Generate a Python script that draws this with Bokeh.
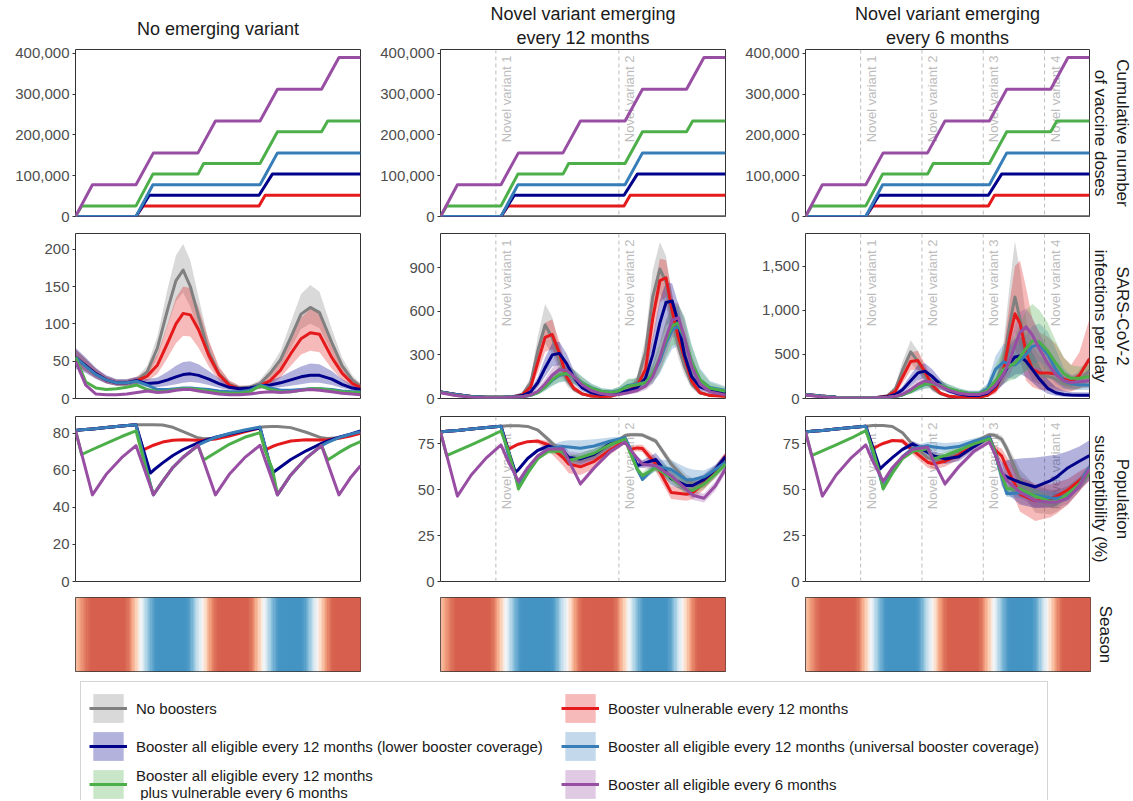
import numpy as np
from math import pi
from bokeh.plotting import figure
from bokeh.layouts import column, row
from bokeh.models import (Range1d, FixedTicker, NumeralTickFormatter, Title, Legend,
                          LegendItem, LinearColorMapper, Span, ColumnDataSource)
from bokeh.core.properties import value
from bokeh.embed import file_html
from bokeh.resources import INLINE

FONT = "Liberation Sans"
X_MAX = 27.8  # months shown

KEYS = ["grey", "red", "navy", "blue", "green", "purple"]
SERIES = {
    "grey": "No boosters",
    "red": "Booster vulnerable every 12 months",
    "navy": "Booster all eligible every 12 months (lower booster coverage)",
    "blue": "Booster all eligible every 12 months (universal booster coverage)",
    "green": "Booster all eligible every 12 months\n plus vulnerable every 6 months",
    "purple": "Booster all eligible every 6 months",
}
COLORS = {"grey": "#808080", "red": "#E41A1C", "navy": "#00008B",
          "blue": "#377EB8", "green": "#4DAF4A", "purple": "#984EA3"}
LEGEND_ORDER = ["grey", "navy", "green", "red", "blue", "purple"]

COL_TITLES = [["No emerging variant"], ["Novel variant emerging", "every 12 months"],
              ["Novel variant emerging", "every 6 months"]]
ROW_LABELS = [["Cumulative number", "of vaccine doses"], ["SARS-CoV-2", "infections per day"],
              ["Population", "susceptibility (%)"], ["Season"]]
VARIANT_MONTHS = [[], [5.4, 17.4], [5.4, 11.4, 17.4, 23.4]]
VARIANT_LABELS = [[], ["Novel variant 1", "Novel variant 2"],
                  ["Novel variant 1", "Novel variant 2", "Novel variant 3", "Novel variant 4"]]

Y_END = [[409500, 409500, 409500], [221, 1134, 1868], [89.0, 89.9, 89.9]]
Y_TICKS = [[[0, 100000, 200000, 300000, 400000]] * 3,
           [[0, 50, 100, 150, 200], [0, 300, 600, 900], [0, 500, 1000, 1500]],
           [[0, 20, 40, 60, 80], [0, 25, 50, 75], [0, 25, 50, 75]]]

# ---------------- cumulative vaccine doses (same in every column) ----------------
DOSE_X_GREY = [0, 27.8]
DOSE_GREY = [0, 0]
DOSE_X_RED = [0, 5.9, 6.6, 17.9, 18.5, 27.8]
DOSE_RED = [0, 0, 26000, 26000, 52000, 52000]
DOSE_X_NAVY = [0, 5.9, 7.2, 17.9, 19.2, 27.8]
DOSE_NAVY = [0, 0, 52000, 52000, 104000, 104000]
DOSE_X_BLUE = [0, 5.9, 7.55, 18.0, 19.7, 27.8]
DOSE_BLUE = [0, 0, 78000, 78000, 156000, 156000]
DOSE_X_GREEN = [0, 0.6, 5.9, 7.55, 11.95, 12.5, 18.0, 19.7, 24.0, 24.6, 27.8]
DOSE_GREEN = [0, 26000, 26000, 104000, 104000, 130000, 130000, 208000, 208000, 234000, 234000]
DOSE_X_PURPLE = [0, 1.65, 5.9, 7.6, 11.95, 13.65, 18.0, 19.7, 24.0, 25.7, 27.8]
DOSE_PURPLE = [0, 78000, 78000, 156000, 156000, 234000, 234000, 312000, 312000, 390000, 390000]

# ---------------- infections per day ----------------
INF1_X = [0, 1, 2, 3, 4, 5, 6, 7, 8, 9, 9.8, 10.5, 11.2, 12, 13, 14, 15, 16, 17, 18, 19, 20, 21, 22,
          22.9, 23.8, 25, 26, 27, 27.8]
INF1_GREY = [55, 44, 33, 25, 21, 21, 24, 36, 68, 120, 158, 172, 150, 110, 62, 33, 19, 14, 15, 20, 34, 52, 82, 113, 122, 115, 75, 44, 25, 16]
INF1_GREY_HI = [66, 53, 40, 30, 25, 25, 29, 44, 84, 148, 192, 207, 185, 136, 77, 41, 24, 17, 18, 25, 42, 64, 102, 140, 152, 143, 93, 55, 31, 20]
INF1_GREY_LO = [45, 36, 27, 20, 17, 17, 19, 29, 55, 98, 130, 142, 123, 90, 50, 27, 15, 11, 12, 16, 27, 42, 67, 93, 100, 94, 61, 36, 20, 13]
INF1_RED = [55, 44, 33, 25, 21, 21, 24, 30, 45, 75, 100, 114, 112, 92, 58, 32, 18, 13, 13, 17, 24, 38, 60, 80, 88, 86, 55, 34, 20, 15]
INF1_RED_HI = [66, 53, 40, 30, 25, 25, 29, 38, 60, 100, 135, 150, 148, 122, 78, 43, 24, 17, 17, 22, 32, 50, 80, 108, 120, 118, 76, 46, 27, 20]
INF1_RED_LO = [45, 36, 27, 20, 17, 17, 19, 23, 33, 55, 74, 84, 83, 68, 43, 24, 13, 10, 10, 13, 18, 28, 44, 59, 64, 62, 40, 25, 15, 11]
INF1_NAVY = [55, 44, 33, 25, 21, 21, 24, 20, 21, 25, 29, 32, 33, 31, 26, 20, 15, 13, 14, 17, 18, 21, 25, 29, 31, 31, 26, 19, 14, 12]
INF1_NAVY_HI = [68, 55, 41, 31, 26, 26, 29, 26, 28, 36, 44, 49, 50, 46, 37, 27, 19, 16, 17, 22, 24, 29, 36, 43, 47, 46, 37, 26, 18, 15]
INF1_NAVY_LO = [40, 34, 26, 20, 17, 17, 19, 15, 15, 17, 19, 21, 22, 21, 18, 14, 11, 10, 11, 13, 14, 15, 17, 19, 21, 21, 18, 14, 11, 9]
INF1_BLUE = [55, 43, 32, 25, 21, 21, 23, 18, 12, 12, 13, 14, 14, 13, 12, 10, 9, 9, 11, 18, 14, 11, 11, 12, 13, 13, 12, 10, 9, 9]
INF1_GREEN = [55, 22, 14, 12, 13, 15, 18, 12, 9, 10, 12, 13, 13, 12, 10, 8, 7, 7, 9, 17, 12, 9, 9, 11, 13, 13, 11, 9, 8, 8]
INF1_PURPLE = [50, 18, 6, 5, 5, 6, 8, 10, 8, 9, 11, 12, 12, 10, 8, 6, 5, 5, 6, 8, 9, 8, 9, 11, 12, 11, 9, 7, 6, 5]

INF2_X = [0, 1.5, 3, 4.5, 6, 7, 8, 8.8, 9.5, 10.2, 10.9, 11.6, 12.3, 13, 13.8, 14.7, 15.7, 16.7, 17.4,
          18.3, 19.2, 20, 20.7, 21.4, 22, 22.6, 23.2, 23.8, 24.5, 25.3, 26.3, 27.8]
INF2_GREY = [45, 27, 14, 9, 8, 12, 30, 110, 330, 505, 420, 260, 130, 65, 32, 18, 15, 20, 38, 60, 120, 320, 700, 890, 800, 560, 360, 220, 100, 40, 22, 18]
INF2_GREY_HI = [55, 33, 18, 12, 11, 16, 42, 150, 430, 650, 560, 350, 180, 90, 44, 25, 20, 27, 50, 80, 160, 420, 880, 1075, 980, 700, 460, 290, 140, 55, 30, 24]
INF2_GREY_LO = [36, 21, 11, 7, 6, 9, 20, 75, 240, 380, 310, 185, 90, 45, 22, 13, 11, 14, 27, 43, 85, 230, 520, 720, 640, 440, 280, 160, 70, 28, 16, 13]
INF2_RED = [45, 27, 14, 9, 8, 11, 25, 80, 250, 420, 440, 310, 150, 70, 32, 17, 14, 16, 30, 50, 90, 200, 550, 810, 830, 600, 420, 280, 120, 40, 20, 15]
INF2_RED_HI = [55, 33, 18, 12, 11, 15, 35, 110, 330, 520, 545, 390, 200, 95, 45, 23, 19, 22, 40, 70, 125, 280, 700, 960, 950, 720, 520, 360, 170, 60, 28, 20]
INF2_RED_LO = [36, 21, 11, 7, 6, 8, 17, 55, 180, 320, 340, 230, 110, 50, 22, 12, 10, 11, 21, 35, 60, 140, 400, 660, 700, 480, 320, 200, 80, 27, 14, 11]
INF2_NAVY = [45, 27, 14, 9, 8, 10, 20, 45, 110, 210, 300, 310, 240, 145, 75, 40, 27, 28, 40, 55, 75, 140, 300, 520, 660, 670, 520, 300, 150, 80, 55, 40]
INF2_NAVY_HI = [55, 33, 18, 12, 11, 13, 28, 65, 150, 280, 380, 390, 310, 195, 105, 57, 38, 40, 56, 75, 105, 200, 420, 680, 800, 790, 650, 400, 210, 115, 78, 56]
INF2_NAVY_LO = [36, 21, 11, 7, 6, 7, 14, 30, 75, 150, 220, 230, 175, 100, 50, 27, 18, 19, 28, 38, 52, 95, 200, 370, 500, 530, 400, 220, 100, 55, 38, 28]
INF2_BLUE = [45, 27, 14, 9, 8, 10, 12, 22, 40, 78, 125, 160, 170, 148, 110, 75, 50, 45, 55, 90, 100, 110, 160, 260, 380, 470, 500, 410, 250, 130, 75, 55]
INF2_BLUE_HI = [55, 33, 18, 12, 11, 13, 17, 32, 56, 108, 170, 215, 228, 200, 152, 105, 72, 64, 80, 130, 140, 160, 230, 370, 520, 610, 640, 560, 370, 210, 120, 85]
INF2_BLUE_LO = [36, 21, 11, 7, 6, 7, 8, 15, 27, 54, 86, 110, 118, 100, 75, 52, 35, 30, 38, 60, 68, 75, 105, 170, 260, 340, 360, 280, 160, 80, 48, 36]
INF2_GREEN = [42, 22, 11, 8, 8, 9, 12, 22, 40, 80, 130, 165, 172, 148, 108, 72, 48, 42, 52, 85, 95, 110, 170, 280, 400, 500, 520, 420, 250, 130, 70, 50]
INF2_GREEN_HI = [52, 27, 14, 10, 10, 12, 17, 32, 58, 110, 175, 220, 230, 200, 150, 100, 68, 62, 80, 135, 140, 160, 240, 390, 540, 640, 650, 560, 360, 200, 110, 75]
INF2_GREEN_LO = [33, 17, 8, 6, 6, 7, 8, 15, 27, 55, 90, 115, 120, 100, 74, 50, 33, 28, 35, 55, 62, 72, 110, 180, 280, 360, 380, 290, 160, 80, 45, 33]
INF2_PURPLE = [40, 20, 8, 6, 6, 8, 12, 25, 50, 100, 160, 198, 195, 150, 95, 55, 32, 24, 28, 40, 55, 85, 150, 280, 420, 540, 555, 420, 220, 100, 45, 25]
INF2_PURPLE_HI = [50, 25, 10, 8, 8, 11, 17, 35, 70, 135, 210, 255, 250, 195, 125, 72, 43, 33, 38, 55, 75, 120, 210, 380, 540, 650, 660, 530, 300, 140, 63, 35]
INF2_PURPLE_LO = [31, 15, 6, 4, 4, 6, 8, 17, 35, 70, 115, 145, 145, 110, 68, 38, 22, 17, 19, 28, 38, 58, 100, 190, 300, 420, 440, 320, 150, 65, 30, 17]

INF3_X = [0, 1.5, 3, 4.5, 6, 7, 8, 8.8, 9.5, 10.3, 11, 11.7, 12.4, 13.2, 14, 15, 16, 17, 17.8, 18.6,
          19.4, 20, 20.5, 21, 21.6, 22.2, 22.9, 23.7, 24.5, 25.3, 26, 26.8, 27.8]
INF3_GREY = [45, 27, 14, 9, 8, 12, 30, 110, 320, 528, 420, 250, 120, 55, 25, 14, 12, 18, 40, 120, 420, 850, 1150, 900, 560, 320, 270, 250, 220, 170, 150, 200, 320]
INF3_GREY_HI = [55, 33, 18, 12, 11, 16, 42, 150, 420, 660, 540, 330, 165, 75, 36, 20, 17, 25, 60, 180, 650, 1300, 1780, 1450, 900, 600, 480, 420, 340, 250, 230, 320, 480]
INF3_GREY_LO = [36, 21, 11, 7, 6, 9, 20, 75, 230, 400, 310, 180, 80, 38, 17, 10, 8, 12, 25, 70, 260, 550, 750, 600, 360, 200, 160, 140, 120, 95, 90, 120, 180]
INF3_RED = [45, 27, 14, 9, 8, 11, 25, 80, 240, 420, 430, 300, 150, 60, 28, 14, 11, 15, 35, 100, 330, 700, 960, 850, 520, 330, 290, 290, 280, 220, 190, 260, 450]
INF3_RED_HI = [55, 33, 18, 12, 11, 15, 35, 110, 320, 520, 540, 390, 210, 85, 40, 20, 16, 22, 55, 160, 560, 1100, 1500, 1560, 1250, 900, 750, 700, 620, 460, 380, 520, 900]
INF3_RED_LO = [36, 21, 11, 7, 6, 8, 17, 55, 170, 320, 330, 220, 100, 40, 19, 9, 7, 10, 20, 55, 180, 400, 560, 430, 200, 130, 100, 90, 90, 80, 80, 110, 200]
INF3_NAVY = [45, 27, 14, 9, 8, 10, 20, 45, 100, 200, 290, 310, 250, 160, 90, 50, 35, 35, 60, 140, 280, 400, 470, 480, 420, 330, 220, 115, 65, 45, 40, 38, 38]
INF3_NAVY_HI = [55, 33, 18, 12, 11, 13, 28, 65, 140, 270, 380, 400, 330, 220, 130, 75, 55, 55, 100, 230, 450, 600, 680, 700, 650, 520, 370, 220, 130, 90, 75, 70, 70]
INF3_NAVY_LO = [36, 21, 11, 7, 6, 7, 14, 30, 65, 140, 210, 230, 180, 110, 60, 32, 22, 22, 35, 80, 160, 230, 270, 280, 240, 180, 110, 55, 30, 20, 18, 17, 17]
INF3_BLUE = [45, 27, 14, 9, 8, 10, 12, 22, 40, 80, 125, 160, 170, 150, 115, 80, 60, 60, 110, 330, 415, 385, 380, 430, 500, 590, 610, 500, 330, 200, 170, 155, 150]
INF3_BLUE_HI = [55, 33, 18, 12, 11, 13, 17, 32, 56, 110, 170, 215, 228, 205, 160, 115, 90, 90, 170, 480, 620, 600, 590, 640, 720, 820, 850, 760, 560, 340, 260, 230, 220]
INF3_BLUE_LO = [36, 21, 11, 7, 6, 7, 8, 15, 27, 55, 86, 110, 118, 100, 75, 52, 38, 38, 60, 200, 260, 230, 220, 260, 320, 390, 420, 330, 190, 110, 100, 95, 95]
INF3_GREEN = [42, 22, 11, 8, 8, 9, 12, 22, 40, 80, 130, 165, 170, 150, 115, 80, 55, 55, 90, 200, 330, 370, 400, 470, 570, 650, 640, 540, 400, 280, 230, 230, 250]
INF3_GREEN_HI = [52, 27, 14, 10, 10, 12, 17, 32, 58, 110, 175, 220, 230, 205, 160, 115, 85, 85, 150, 380, 560, 640, 720, 850, 1000, 1070, 1000, 860, 650, 460, 380, 360, 380]
INF3_GREEN_LO = [33, 17, 8, 6, 6, 7, 8, 15, 27, 55, 90, 115, 120, 100, 75, 50, 35, 35, 50, 100, 170, 200, 220, 260, 310, 360, 340, 270, 190, 130, 110, 110, 130]
INF3_PURPLE = [40, 20, 8, 6, 6, 8, 12, 25, 48, 100, 160, 198, 185, 140, 95, 60, 45, 45, 70, 150, 280, 430, 600, 750, 810, 720, 560, 400, 270, 200, 180, 190, 200]
INF3_PURPLE_HI = [50, 25, 10, 8, 8, 11, 17, 35, 68, 135, 210, 255, 245, 190, 130, 85, 65, 65, 110, 230, 420, 620, 820, 980, 1020, 920, 740, 560, 400, 300, 270, 280, 300]
INF3_PURPLE_LO = [31, 15, 6, 4, 4, 6, 8, 17, 33, 70, 115, 145, 135, 100, 65, 40, 30, 30, 45, 90, 170, 270, 400, 520, 580, 500, 380, 260, 170, 120, 110, 115, 125]

# ---------------- population susceptibility (%) ----------------
SUS_X = [0, 0.6, 1.65, 3, 4.5, 5.9, 6.6, 7.3, 7.6, 8.5, 9.5, 10.5, 11.95, 12.5, 13.65, 15, 16.5, 18,
         18.5, 19.2, 19.7, 21, 22.5, 24, 24.6, 25.7, 26.8, 27.8]
SUS1_GREY = [81.5, 81.8, 82.3, 83.1, 83.9, 84.5, 84.6, 84.6, 84.6, 84.4, 83.2, 80.8, 77.5, 77.0, 77.3, 78.8, 81.2, 83.2, 83.5, 83.6, 83.6, 83.0, 80.5, 77.5, 77.2, 77.6, 79.0, 80.5]
SUS1_RED = [81.5, 81.8, 82.3, 83.1, 83.9, 84.5, 71.0, 72.8, 73.5, 75.2, 76.2, 76.5, 76.2, 76.2, 76.8, 78.5, 80.8, 82.8, 71.0, 72.8, 73.8, 75.8, 76.5, 76.3, 76.4, 77.2, 78.5, 80.0]
SUS1_NAVY = [81.5, 81.8, 82.3, 83.1, 83.9, 84.5, 71.5, 58.5, 60.0, 64.0, 68.0, 71.2, 74.8, 75.8, 77.8, 79.6, 81.3, 82.8, 72.7, 58.5, 60.5, 65.8, 70.5, 74.5, 75.8, 77.8, 79.5, 81.2]
SUS1_BLUE = [81.5, 81.8, 82.3, 83.1, 83.9, 84.5, 68.5, 52.4, 46.7, 54.0, 61.5, 67.0, 73.5, 75.0, 77.7, 79.8, 81.7, 83.3, 72.5, 57.5, 46.7, 57.5, 66.5, 73.3, 75.0, 77.6, 79.4, 80.8]
SUS1_GREEN = [81.5, 68.5, 71.2, 74.5, 78.2, 81.2, 66.7, 52.2, 47.0, 54.0, 61.5, 67.0, 73.3, 65.5, 69.5, 74.0, 77.8, 80.3, 70.5, 60.7, 47.0, 57.5, 66.5, 73.3, 65.5, 69.5, 73.0, 75.5]
SUS1_PURPLE = [81.5, 68.8, 46.7, 57.8, 66.8, 73.3, 62.5, 51.5, 46.7, 54.0, 61.5, 67.0, 73.5, 64.8, 46.7, 57.8, 66.8, 73.5, 65.6, 54.6, 46.7, 57.5, 66.5, 73.3, 63.8, 46.7, 55.8, 62.5]

SUS2_GREY = [81.5, 81.8, 82.3, 83.1, 83.9, 84.6, 84.8, 84.8, 84.8, 84.5, 82.5, 77.5, 69.5, 67.5, 66.5, 68.5, 73.5, 79.5, 80.0, 80.0, 79.8, 76.5, 64.0, 55.0, 53.5, 54.0, 58.5, 64.0]
SUS2_GREY_LO = [81.5, 81.8, 82.3, 83.1, 83.9, 84.6, 84.8, 84.8, 84.8, 84.5, 81.5, 76.0, 67.5, 65.5, 64.5, 66.5, 72.0, 78.5, 79.0, 79.0, 78.8, 75.0, 61.5, 52.0, 50.5, 51.0, 56.0, 62.0]
SUS2_GREY_HI = [81.5, 81.8, 82.3, 83.1, 83.9, 84.6, 84.8, 84.8, 84.8, 84.5, 83.5, 79.0, 71.5, 69.5, 68.5, 70.5, 75.0, 80.5, 81.0, 81.0, 80.8, 78.0, 66.5, 58.0, 56.5, 57.0, 61.0, 66.0]
SUS2_RED = [81.5, 81.8, 82.3, 83.1, 83.9, 84.6, 72.0, 74.0, 74.8, 76.2, 76.5, 74.5, 67.5, 64.0, 62.5, 65.5, 71.5, 76.5, 72.0, 72.8, 72.5, 64.0, 48.5, 47.5, 48.5, 53.5, 60.0, 68.5]
SUS2_RED_LO = [81.5, 81.8, 82.3, 83.1, 83.9, 84.6, 72.0, 74.0, 74.8, 76.2, 75.0, 71.5, 63.0, 59.0, 58.0, 61.5, 69.0, 75.0, 70.5, 71.0, 70.5, 60.0, 45.0, 44.0, 45.0, 50.0, 57.0, 66.0]
SUS2_RED_HI = [81.5, 81.8, 82.3, 83.1, 83.9, 84.6, 72.0, 74.0, 74.8, 76.2, 77.5, 76.5, 70.5, 67.5, 66.0, 68.5, 73.5, 78.0, 73.5, 74.5, 74.5, 67.5, 52.0, 51.0, 52.0, 56.5, 63.0, 70.5]
SUS2_NAVY = [81.5, 81.8, 82.3, 83.1, 83.9, 84.6, 71.7, 59.5, 61.0, 67.0, 71.5, 73.8, 71.5, 67.5, 66.8, 69.3, 75.0, 77.8, 72.0, 63.2, 64.0, 66.5, 56.0, 52.3, 52.3, 55.5, 61.0, 68.0]
SUS2_NAVY_LO = [81.5, 81.8, 82.3, 83.1, 83.9, 84.6, 71.7, 59.5, 61.0, 67.0, 70.5, 72.0, 68.5, 64.5, 63.5, 66.5, 73.0, 76.8, 71.0, 61.5, 62.0, 63.0, 52.5, 49.0, 49.0, 52.5, 58.5, 66.0]
SUS2_NAVY_HI = [81.5, 81.8, 82.3, 83.1, 83.9, 84.6, 71.7, 59.5, 61.0, 67.0, 72.5, 75.5, 74.5, 71.0, 70.0, 72.0, 77.0, 78.8, 73.0, 65.0, 66.0, 70.0, 60.0, 56.0, 56.0, 58.5, 63.5, 70.0]
SUS2_BLUE = [81.5, 81.8, 82.3, 83.1, 83.9, 84.6, 69.5, 57.5, 52.3, 60.5, 68.0, 72.3, 73.5, 73.3, 72.6, 73.8, 76.5, 78.4, 72.5, 61.0, 55.6, 63.0, 61.0, 55.5, 55.5, 57.0, 61.0, 65.0]
SUS2_BLUE_LO = [81.5, 81.8, 82.3, 83.1, 83.9, 84.6, 69.5, 57.5, 52.3, 60.5, 67.0, 71.0, 71.5, 71.0, 70.0, 71.5, 75.0, 77.5, 71.5, 60.0, 54.5, 60.5, 58.0, 53.0, 53.0, 55.0, 59.0, 63.5]
SUS2_BLUE_HI = [81.5, 81.8, 82.3, 83.1, 83.9, 84.6, 69.5, 57.5, 52.3, 60.5, 69.0, 74.0, 76.5, 77.0, 77.0, 77.5, 78.5, 79.3, 73.5, 62.0, 57.0, 66.5, 66.0, 62.0, 61.0, 60.5, 63.5, 67.0]
SUS2_GREEN = [81.5, 68.6, 71.2, 74.5, 78.2, 82.0, 71.5, 58.0, 50.5, 59.0, 67.0, 71.0, 71.0, 66.0, 67.5, 70.0, 74.5, 77.5, 70.0, 61.0, 57.7, 62.0, 56.5, 50.0, 49.6, 53.0, 58.5, 64.0]
SUS2_GREEN_LO = [81.5, 68.6, 71.2, 74.5, 78.2, 82.0, 71.5, 58.0, 48.5, 57.5, 66.0, 69.5, 69.0, 64.0, 65.5, 68.0, 73.0, 76.5, 69.0, 60.0, 56.5, 60.0, 53.5, 47.5, 47.0, 50.5, 56.5, 62.5]
SUS2_GREEN_HI = [81.5, 68.6, 71.2, 74.5, 78.2, 82.0, 71.5, 58.0, 52.5, 60.5, 68.0, 72.5, 73.0, 68.5, 70.0, 72.5, 76.0, 78.5, 71.0, 62.5, 59.5, 65.5, 62.0, 54.5, 53.0, 55.5, 60.5, 65.5]
SUS2_PURPLE = [81.5, 68.8, 46.5, 58.0, 67.5, 74.4, 65.5, 58.0, 54.5, 62.0, 68.5, 72.0, 72.3, 66.0, 53.2, 62.0, 70.5, 76.0, 72.0, 67.0, 64.0, 63.0, 57.5, 50.0, 47.0, 45.4, 52.0, 61.4]
SUS2_PURPLE_LO = [81.5, 68.8, 46.5, 58.0, 67.5, 74.4, 65.5, 58.0, 54.5, 62.0, 67.5, 70.5, 70.8, 64.5, 51.7, 60.5, 69.0, 75.0, 71.0, 65.5, 62.0, 60.5, 55.0, 47.5, 44.5, 43.0, 49.5, 59.0]
SUS2_PURPLE_HI = [81.5, 68.8, 46.5, 58.0, 67.5, 74.4, 65.5, 58.0, 54.5, 62.0, 69.5, 73.5, 73.8, 67.5, 54.7, 63.5, 72.0, 77.0, 73.0, 68.5, 66.0, 65.5, 60.0, 52.5, 49.5, 47.8, 54.5, 63.8]

SUS3_GREY = [81.5, 81.8, 82.3, 83.1, 83.9, 84.6, 85.0, 85.0, 85.0, 84.5, 81.0, 74.5, 67.5, 66.5, 67.0, 70.5, 76.0, 80.0, 79.7, 77.5, 72.3, 55.5, 45.5, 43.5, 44.0, 47.0, 53.0, 60.5]
SUS3_GREY_LO = [81.5, 81.8, 82.3, 83.1, 83.9, 84.6, 85.0, 85.0, 85.0, 84.5, 80.0, 73.0, 65.5, 64.5, 65.0, 68.5, 74.5, 79.0, 78.5, 75.5, 69.5, 50.0, 37.5, 36.5, 38.0, 42.0, 49.0, 57.5]
SUS3_GREY_HI = [81.5, 81.8, 82.3, 83.1, 83.9, 84.6, 85.0, 85.0, 85.0, 84.5, 82.0, 76.0, 69.5, 68.5, 69.0, 72.5, 77.5, 81.0, 81.0, 79.5, 75.0, 61.0, 52.0, 50.0, 50.0, 52.0, 57.0, 63.5]
SUS3_RED = [81.5, 81.8, 82.3, 83.1, 83.9, 84.6, 72.3, 74.5, 75.2, 76.8, 76.5, 71.5, 65.0, 64.0, 65.5, 69.0, 74.5, 78.6, 72.0, 68.5, 62.0, 47.5, 44.0, 45.0, 46.5, 50.0, 55.0, 59.6]
SUS3_RED_LO = [81.5, 81.8, 82.3, 83.1, 83.9, 84.6, 72.3, 74.5, 75.2, 76.8, 75.0, 69.0, 62.0, 61.0, 62.5, 66.5, 72.5, 77.0, 70.0, 64.5, 56.0, 38.0, 33.0, 35.0, 37.0, 42.0, 49.0, 55.0]
SUS3_RED_HI = [81.5, 81.8, 82.3, 83.1, 83.9, 84.6, 72.3, 74.5, 75.2, 76.8, 78.0, 74.0, 68.0, 67.0, 68.5, 71.5, 76.5, 80.0, 74.0, 72.5, 68.0, 57.0, 53.0, 53.0, 54.0, 56.0, 60.0, 63.0]
SUS3_NAVY = [81.5, 81.8, 82.3, 83.1, 83.9, 84.6, 73.0, 61.4, 63.0, 67.5, 72.0, 75.0, 70.5, 68.6, 66.8, 68.0, 73.5, 78.6, 71.0, 58.5, 57.0, 54.0, 51.5, 55.0, 57.0, 62.0, 65.5, 68.6]
SUS3_NAVY_LO = [81.5, 81.8, 82.3, 83.1, 83.9, 84.6, 73.0, 61.4, 63.0, 67.5, 71.0, 73.5, 68.5, 66.0, 64.0, 65.5, 71.5, 77.5, 69.0, 52.0, 48.0, 42.0, 40.0, 40.5, 41.5, 46.0, 50.0, 55.0]
SUS3_NAVY_HI = [81.5, 81.8, 82.3, 83.1, 83.9, 84.6, 73.0, 61.4, 63.0, 67.5, 73.0, 76.5, 73.0, 71.0, 69.5, 70.5, 75.5, 79.5, 73.0, 65.0, 66.0, 67.0, 67.5, 68.6, 69.0, 71.0, 73.5, 77.0]
SUS3_BLUE = [81.5, 81.8, 82.3, 83.1, 83.9, 84.6, 69.5, 57.0, 51.4, 60.5, 68.0, 72.5, 74.0, 73.3, 72.6, 73.5, 76.5, 78.6, 71.5, 57.0, 47.8, 48.3, 47.0, 45.5, 45.3, 46.8, 53.0, 62.3]
SUS3_BLUE_LO = [81.5, 81.8, 82.3, 83.1, 83.9, 84.6, 69.5, 57.0, 51.4, 60.5, 67.0, 71.0, 72.0, 71.0, 70.0, 71.0, 75.0, 77.5, 70.5, 55.5, 46.0, 45.5, 44.0, 42.5, 42.5, 44.0, 50.5, 60.0]
SUS3_BLUE_HI = [81.5, 81.8, 82.3, 83.1, 83.9, 84.6, 69.5, 57.0, 51.4, 60.5, 69.0, 74.0, 76.0, 76.0, 75.5, 76.0, 78.0, 79.5, 72.5, 58.5, 50.0, 52.0, 50.5, 49.0, 48.5, 50.0, 56.0, 64.5]
SUS3_GREEN = [81.5, 68.6, 71.2, 74.5, 78.2, 82.2, 71.5, 58.0, 50.5, 59.0, 67.0, 71.0, 72.3, 66.8, 68.6, 71.5, 75.0, 77.7, 71.0, 58.0, 50.5, 50.5, 46.5, 43.5, 43.2, 48.0, 53.0, 59.6]
SUS3_GREEN_LO = [81.5, 68.6, 71.2, 74.5, 78.2, 82.2, 71.5, 58.0, 48.5, 57.5, 66.0, 69.5, 70.5, 64.5, 66.5, 69.5, 73.5, 76.5, 69.5, 55.5, 48.0, 47.5, 43.0, 40.5, 40.5, 45.0, 50.5, 57.0]
SUS3_GREEN_HI = [81.5, 68.6, 71.2, 74.5, 78.2, 82.2, 71.5, 58.0, 52.5, 60.5, 68.0, 72.5, 74.0, 69.0, 70.5, 73.5, 76.5, 79.0, 72.5, 60.5, 53.0, 54.0, 50.0, 46.5, 46.0, 51.0, 55.5, 62.0]
SUS3_PURPLE = [81.5, 68.8, 46.5, 58.0, 67.5, 74.4, 65.5, 58.0, 54.5, 62.0, 68.0, 72.0, 73.2, 66.0, 53.2, 62.5, 71.0, 76.0, 70.0, 60.0, 55.0, 48.7, 44.0, 43.2, 43.2, 45.5, 52.0, 61.4]
SUS3_PURPLE_LO = [81.5, 68.8, 46.5, 58.0, 67.5, 74.4, 65.5, 58.0, 54.5, 62.0, 67.0, 70.5, 71.5, 64.5, 51.5, 61.0, 69.5, 75.0, 68.5, 57.5, 52.0, 45.5, 40.5, 40.0, 40.0, 42.5, 49.0, 59.0]
SUS3_PURPLE_HI = [81.5, 68.8, 46.5, 58.0, 67.5, 74.4, 65.5, 58.0, 54.5, 62.0, 69.0, 73.5, 74.8, 67.5, 55.0, 64.0, 72.5, 77.0, 71.5, 62.5, 58.0, 52.0, 47.5, 46.5, 46.5, 48.5, 55.0, 63.8]

# ---------------- season (one value every quarter month, +1 = red, -1 = blue) ----------------
SEASON_STEP = 0.25
SEASON = [0.55, 0.65, 0.75, 0.85, 0.92, 0.97,
          1, 1, 1, 1, 1, 1, 1, 1, 1, 1, 1, 1, 1,
          0.97, 0.9, 0.78, 0.6, 0.4, 0.18, -0.05, -0.28, -0.5, -0.68, -0.82, -0.92, -0.98,
          -1, -1, -1, -1, -1, -1, -1, -1, -1, -1, -1,
          -0.97, -0.9, -0.78, -0.6, -0.4, -0.18, 0.05, 0.28, 0.5, 0.68, 0.82, 0.92, 0.98,
          1, 1, 1, 1, 1, 1, 1, 1, 1, 1, 1,
          0.97, 0.9, 0.78, 0.6, 0.4, 0.18, -0.05, -0.28, -0.5, -0.68, -0.82, -0.92, -0.98,
          -1, -1, -1, -1, -1, -1, -1, -1,
          -0.97, -0.9, -0.78, -0.6, -0.4, -0.18, 0.05, 0.28, 0.5, 0.68, 0.82, 0.92, 0.98,
          1, 1, 1, 1, 1, 1, 1, 1, 1, 1, 1]
SEASON_ANCHORS = ["#4393C3", "#92C5DE", "#D1E5F0", "#F7F7F7", "#FDDBC7", "#F4A582", "#D6604D"]

# ---------------- assemble ----------------
DOSES = {"grey": (DOSE_X_GREY, DOSE_GREY), "red": (DOSE_X_RED, DOSE_RED),
         "navy": (DOSE_X_NAVY, DOSE_NAVY), "blue": (DOSE_X_BLUE, DOSE_BLUE),
         "green": (DOSE_X_GREEN, DOSE_GREEN), "purple": (DOSE_X_PURPLE, DOSE_PURPLE)}
INF = [
    (INF1_X, {"grey": (INF1_GREY, INF1_GREY_LO, INF1_GREY_HI), "red": (INF1_RED, INF1_RED_LO, INF1_RED_HI),
              "navy": (INF1_NAVY, INF1_NAVY_LO, INF1_NAVY_HI), "blue": (INF1_BLUE, None, None),
              "green": (INF1_GREEN, None, None), "purple": (INF1_PURPLE, None, None)}),
    (INF2_X, {"grey": (INF2_GREY, INF2_GREY_LO, INF2_GREY_HI), "red": (INF2_RED, INF2_RED_LO, INF2_RED_HI),
              "navy": (INF2_NAVY, INF2_NAVY_LO, INF2_NAVY_HI), "blue": (INF2_BLUE, INF2_BLUE_LO, INF2_BLUE_HI),
              "green": (INF2_GREEN, INF2_GREEN_LO, INF2_GREEN_HI), "purple": (INF2_PURPLE, INF2_PURPLE_LO, INF2_PURPLE_HI)}),
    (INF3_X, {"grey": (INF3_GREY, INF3_GREY_LO, INF3_GREY_HI), "red": (INF3_RED, INF3_RED_LO, INF3_RED_HI),
              "navy": (INF3_NAVY, INF3_NAVY_LO, INF3_NAVY_HI), "blue": (INF3_BLUE, INF3_BLUE_LO, INF3_BLUE_HI),
              "green": (INF3_GREEN, INF3_GREEN_LO, INF3_GREEN_HI), "purple": (INF3_PURPLE, INF3_PURPLE_LO, INF3_PURPLE_HI)}),
]
SUS = [
    (SUS_X, {"grey": (SUS1_GREY, None, None), "red": (SUS1_RED, None, None), "navy": (SUS1_NAVY, None, None),
             "blue": (SUS1_BLUE, None, None), "green": (SUS1_GREEN, None, None), "purple": (SUS1_PURPLE, None, None)}),
    (SUS_X, {"grey": (SUS2_GREY, SUS2_GREY_LO, SUS2_GREY_HI), "red": (SUS2_RED, SUS2_RED_LO, SUS2_RED_HI),
             "navy": (SUS2_NAVY, SUS2_NAVY_LO, SUS2_NAVY_HI), "blue": (SUS2_BLUE, SUS2_BLUE_LO, SUS2_BLUE_HI),
             "green": (SUS2_GREEN, SUS2_GREEN_LO, SUS2_GREEN_HI), "purple": (SUS2_PURPLE, SUS2_PURPLE_LO, SUS2_PURPLE_HI)}),
    (SUS_X, {"grey": (SUS3_GREY, SUS3_GREY_LO, SUS3_GREY_HI), "red": (SUS3_RED, SUS3_RED_LO, SUS3_RED_HI),
             "navy": (SUS3_NAVY, SUS3_NAVY_LO, SUS3_NAVY_HI), "blue": (SUS3_BLUE, SUS3_BLUE_LO, SUS3_BLUE_HI),
             "green": (SUS3_GREEN, SUS3_GREEN_LO, SUS3_GREEN_HI), "purple": (SUS3_PURPLE, SUS3_PURPLE_LO, SUS3_PURPLE_HI)}),
]

# ---------------- layout / style ----------------
BORDER_L = [75, 67, 67]
BORDER_R = [13, 13, 43]
COL_W = [BORDER_L[i] + 285 + BORDER_R[i] for i in range(3)]
ROW_H = [224, 183, 182, 87]
BORDER_T = [49, 9, 9, 8]
BORDER_B = [8, 9, 8, 5]
RIBBON_ALPHA = 0.3
LINE_W = 3
VAR_COLOR = "#BDBDBD"
TEXT_COLOR = "#1A1A1A"
TICK_COLOR = "#4D4D4D"


def lerp_palette(anchors, n=256):
    rgb = np.array([[int(a[i:i + 2], 16) for i in (1, 3, 5)] for a in anchors], float)
    t = np.linspace(0, 1, len(anchors))
    out = []
    for s in np.linspace(0, 1, n):
        c = [int(round(np.interp(s, t, rgb[:, k]))) for k in range(3)]
        out.append("#%02x%02x%02x" % tuple(c))
    return out


def title(text, standoff, size):
    return Title(text=text, align="center", standoff=standoff, text_font=FONT,
                 text_font_size=size, text_font_style="normal", text_color=TEXT_COLOR)


def make_fig(ci, ri):
    y_end = Y_END[ri][ci] if ri < 3 else 1
    p = figure(width=COL_W[ci], height=ROW_H[ri], x_range=Range1d(0, X_MAX), y_range=Range1d(0, y_end),
               toolbar_location=None, output_backend="svg", title=None,
               min_border_left=BORDER_L[ci], min_border_right=BORDER_R[ci],
               min_border_top=BORDER_T[ri], min_border_bottom=BORDER_B[ri])
    p.xaxis.visible = False
    p.grid.visible = False
    p.outline_line_color = "#333333"
    p.outline_line_width = 1
    p.background_fill_color = "white"
    p.border_fill_color = "white"
    if ri < 3:
        ax = p.yaxis[0]
        ax.ticker = FixedTicker(ticks=Y_TICKS[ri][ci])
        ax.formatter = NumeralTickFormatter(format="0,0")
        ax.axis_line_color = None
        ax.major_tick_line_color = "#333333"
        ax.major_tick_out = 3
        ax.major_tick_in = 0
        ax.minor_tick_line_color = None
        ax.major_label_standoff = 3
        ax.major_label_text_font = FONT
        ax.major_label_text_font_size = "15px"
        ax.major_label_text_color = TICK_COLOR
    else:
        p.yaxis.visible = False
    if ri == 0:
        lines = COL_TITLES[ci]
        if len(lines) == 1:
            p.add_layout(title(lines[0], 21, "18px"), "above")
        else:
            for j, ln in enumerate(reversed(lines)):   # inner line first
                p.add_layout(title(ln, 4 if j == 0 else 0, "18px"), "above")
    if ci == 2:
        lines = ROW_LABELS[ri]
        if len(lines) == 1:
            p.add_layout(title(lines[0], 11, "17px"), "right")
        else:
            for j, ln in enumerate(reversed(lines)):
                p.add_layout(title(ln, 2 if j == 0 else 0, "17px"), "right")
    # variant markers
    if ri < 3 and VARIANT_MONTHS[ci]:
        for m in VARIANT_MONTHS[ci]:
            p.add_layout(Span(location=m, dimension="height", line_color=VAR_COLOR,
                              line_dash="4 3", line_width=1, level="underlay"))
        n = len(VARIANT_MONTHS[ci])
        p.text(x=VARIANT_MONTHS[ci], y=[y_end] * n, text=VARIANT_LABELS[ci], angle=pi / 2,
               text_align="right", text_baseline="top", x_offset=3, y_offset=6,
               text_font=value(FONT), text_font_size="13px", text_color=VAR_COLOR)
    return p


def draw_series(p, xs, data):
    for k in KEYS:
        mid, lo, hi = data[k]
        if lo is not None:
            p.varea(x=xs, y1=lo, y2=hi, fill_color=COLORS[k], fill_alpha=RIBBON_ALPHA)
    for k in KEYS:
        mid, lo, hi = data[k]
        p.line(x=xs, y=mid, line_color=COLORS[k], line_width=LINE_W, line_join="round")


rows = []
palette = lerp_palette(SEASON_ANCHORS)
for ri in range(4):
    figs = []
    for ci in range(3):
        p = make_fig(ci, ri)
        if ri == 0:
            for k in KEYS:
                xs, ys = DOSES[k]
                p.line(x=xs, y=ys, line_color=COLORS[k], line_width=LINE_W, line_join="round")
        elif ri == 1:
            xs, data = INF[ci]
            draw_series(p, xs, data)
        elif ri == 2:
            xs, data = SUS[ci]
            draw_series(p, xs, data)
        else:
            mapper = LinearColorMapper(palette=palette, low=-1, high=1)
            p.image(image=[np.array([SEASON], dtype=float)], x=0, y=0,
                    dw=SEASON_STEP * len(SEASON), dh=1, color_mapper=mapper)
        figs.append(p)
    rows.append(row(*figs))

# ---------------- legend (swatch renderers sit outside the visible range) ----------------
lp = figure(width=sum(COL_W), height=124, toolbar_location=None, output_backend="svg", title=None,
            x_range=Range1d(0, 1), y_range=Range1d(0, 1),
            min_border_left=80, min_border_right=0, min_border_top=5, min_border_bottom=0)
lp.axis.visible = False
lp.grid.visible = False
lp.outline_line_color = None
items = []
for k in LEGEND_ORDER:
    src = ColumnDataSource(dict(x=[5, 6], lo=[5, 5], hi=[6, 6]))
    a = lp.varea(x="x", y1="lo", y2="hi", source=src, fill_color=COLORS[k], fill_alpha=RIBBON_ALPHA)
    ln = lp.line(x="x", y="hi", source=src, line_color=COLORS[k], line_width=LINE_W)
    items.append(LegendItem(label=SERIES[k], renderers=[a, ln]))
legend = Legend(items=items, location="top_left", orientation="vertical", ncols=2,
                glyph_width=38, glyph_height=36, label_height=36, label_width=423,
                label_standoff=9, spacing=2, padding=8, margin=0,
                label_text_font=FONT, label_text_font_size="15px", label_text_color=TEXT_COLOR,
                border_line_color="#AAAAAA", border_line_width=1, background_fill_color="white")
lp.add_layout(legend, "center")

layout = column(*rows, lp)
open("out.html", "w").write(file_html(layout, INLINE, title="Booster scenarios"))
